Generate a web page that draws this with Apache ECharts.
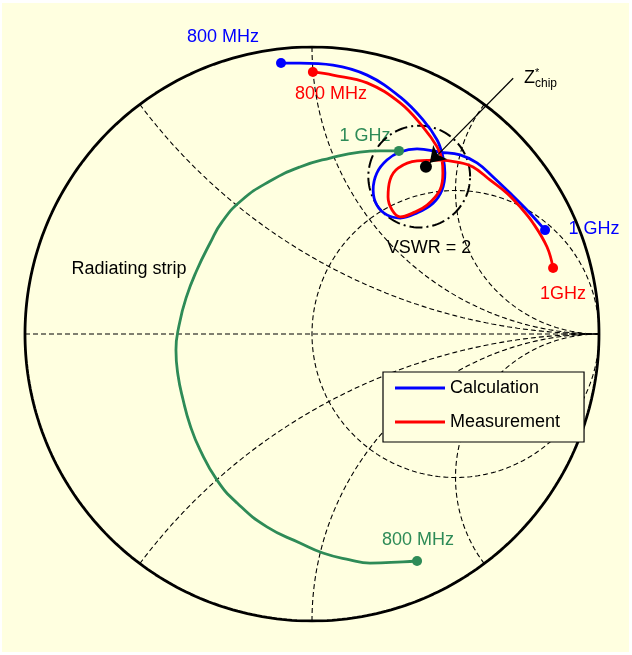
<!DOCTYPE html>
<html>
<head>
<meta charset="utf-8">
<script src="https://cdn.jsdelivr.net/npm/echarts@6/dist/echarts.min.js"></script>
<style>
  html, body { margin: 0; padding: 0; background: #ffffff; }
  #chart { width: 632px; height: 655px; }
</style>
</head>
<body>
<div id="chart"></div>
<script>
// Reflection coefficient traces, [Re Γ, Im Γ], swept 800 MHz -> 1 GHz
const calculation = [
  [-0.108, 0.944], [-0.042, 0.944], [0.073, 0.937], [0.192, 0.902], [0.307, 0.826],
  [0.387, 0.746], [0.436, 0.676], [0.456, 0.617], [0.463, 0.561], [0.453, 0.502],
  [0.422, 0.456], [0.366, 0.422], [0.307, 0.404], [0.261, 0.415], [0.226, 0.449],
  [0.213, 0.502], [0.226, 0.561], [0.261, 0.606], [0.307, 0.634], [0.366, 0.645],
  [0.446, 0.634], [0.516, 0.624], [0.575, 0.596], [0.631, 0.547], [0.690, 0.491],
  [0.749, 0.432], [0.812, 0.362]
];
const measurement = [
  [0.003, 0.913], [0.073, 0.902], [0.192, 0.875], [0.307, 0.805], [0.387, 0.721],
  [0.436, 0.652], [0.453, 0.606], [0.456, 0.561], [0.446, 0.502], [0.401, 0.449],
  [0.352, 0.422], [0.307, 0.408], [0.279, 0.432], [0.265, 0.477], [0.272, 0.537],
  [0.300, 0.578], [0.366, 0.603], [0.446, 0.606], [0.505, 0.599], [0.561, 0.582],
  [0.620, 0.537], [0.679, 0.491], [0.725, 0.443], [0.770, 0.387], [0.819, 0.303],
  [0.840, 0.230]
];
const radiatingStrip = [
  [0.366, -0.791], [0.317, -0.794], [0.202, -0.798], [0.132, -0.787], [0.038, -0.763],
  [-0.042, -0.728], [-0.157, -0.672], [-0.261, -0.589], [-0.331, -0.509], [-0.390, -0.404],
  [-0.425, -0.317], [-0.449, -0.230], [-0.467, -0.143], [-0.474, -0.056], [-0.463, 0.031],
  [-0.439, 0.125], [-0.401, 0.223], [-0.355, 0.317], [-0.314, 0.390], [-0.244, 0.467],
  [-0.146, 0.533], [-0.042, 0.582], [0.063, 0.613], [0.167, 0.634], [0.237, 0.638],
  [0.303, 0.638]
];
// Conjugate chip impedance as a reflection coefficient, and the matching limit
const zChipConj = [0.397, 0.583];
const vswr = 2;
// Smith chart grid values
const gridResistances = [1];
const gridReactances = [0.5, 1, 2, -0.5, -1, -2];
// Legend entries
const legendNames = ['Calculation', 'Measurement'];

const FONT = '"Liberation Sans", Arial, sans-serif';
const BLUE = '#0000ff', RED = '#ff0000', GREEN = '#2e8b57';

// z = r + jx  ->  Γ = (z - 1) / (z + 1)
function gammaOf(r, x) {
  const den = (r + 1) * (r + 1) + x * x;
  return [(r * r - 1 + x * x) / den, (2 * x) / den];
}

function unitCircle() {
  const pts = [];
  for (let i = 0; i <= 360; i++) {
    const t = i * Math.PI / 180;
    pts.push([Math.cos(t), Math.sin(t)]);
  }
  return pts;
}

function resistanceCircle(r) {
  const c = r / (1 + r), rad = 1 / (1 + r), pts = [];
  for (let i = 0; i <= 360; i++) {
    const t = i * Math.PI / 180;
    pts.push([c + rad * Math.cos(t), rad * Math.sin(t)]);
  }
  return pts;
}

function reactanceArc(x) {
  const pts = [];
  const n = 400;
  for (let i = 0; i < n; i++) {
    const th = (i / n) * (Math.PI / 2);
    pts.push(gammaOf(Math.tan(th), x));
  }
  pts.push([1, 0]);
  return pts;
}

function vswrCircle(g, s) {
  const rho = (s - 1) / (s + 1);
  const g2 = g[0] * g[0] + g[1] * g[1];
  const k = 1 - rho * rho * g2;
  const c = [g[0] * (1 - rho * rho) / k, g[1] * (1 - rho * rho) / k];
  const rad = rho * (1 - g2) / k;
  const pts = [];
  for (let i = 0; i <= 360; i++) {
    const t = i * Math.PI / 180;
    pts.push([c[0] + rad * Math.cos(t), c[1] + rad * Math.sin(t)]);
  }
  return pts;
}

const gridStyle = { color: '#000', width: 1.1, type: [5, 3] };
const gridSeries = [];
gridSeries.push({
  type: 'line', data: [[-1, 0], [1, 0]], showSymbol: false, silent: true,
  lineStyle: gridStyle, z: 1
});
gridResistances.forEach(r => gridSeries.push({
  type: 'line', data: resistanceCircle(r), showSymbol: false, silent: true,
  lineStyle: gridStyle, z: 1
}));
gridReactances.forEach(x => gridSeries.push({
  type: 'line', data: reactanceArc(x), showSymbol: false, silent: true,
  lineStyle: gridStyle, z: 1
}));

// arrow pointing at the conjugate chip impedance
const arrowFrom = [0.701, 0.891];
const dir = [arrowFrom[0] - zChipConj[0], arrowFrom[1] - zChipConj[1]];
const dLen = Math.hypot(dir[0], dir[1]);
const arrowTo = [zChipConj[0] + dir[0] / dLen * 0.019, zChipConj[1] + dir[1] / dLen * 0.019];

function ends(arr) { return [arr[0], arr[arr.length - 1]]; }

const chart = echarts.init(document.getElementById('chart'), null, { renderer: 'canvas' });
chart.setOption({
  animation: false,
  backgroundColor: 'transparent',
  grid: { left: 25, top: 47, width: 574, height: 574 },
  xAxis: { type: 'value', min: -1, max: 1, show: false },
  yAxis: { type: 'value', min: -1, max: 1, show: false },
  legend: {
    data: legendNames.map(n => ({ name: n, icon: 'rect' })),
    orient: 'vertical', left: 383, top: 372,
    itemWidth: 50, itemHeight: 3, itemGap: 16,
    padding: [7, 24, 11, 12],
    borderColor: '#000', borderWidth: 1.2, backgroundColor: '#ffffe0',
    selectedMode: false,
    textStyle: { fontSize: 18, fontFamily: FONT, color: '#000' }
  },
  graphic: [
    { type: 'rect', z: -10, silent: true, shape: { x: 2, y: 3, width: 627, height: 649 },
      style: { fill: '#ffffe0' } },
    { type: 'text', x: 223, y: 37, style: { text: '800 MHz', fill: BLUE, font: '18px ' + FONT, align: 'center', verticalAlign: 'middle' } },
    { type: 'text', x: 331, y: 94, style: { text: '800 MHz', fill: RED, font: '18px ' + FONT, align: 'center', verticalAlign: 'middle' } },
    { type: 'text', x: 365, y: 136, style: { text: '1 GHz', fill: GREEN, font: '18px ' + FONT, align: 'center', verticalAlign: 'middle' } },
    { type: 'text', x: 594, y: 229, style: { text: '1 GHz', fill: BLUE, font: '18px ' + FONT, align: 'center', verticalAlign: 'middle' } },
    { type: 'text', x: 563, y: 294, style: { text: '1GHz', fill: RED, font: '18px ' + FONT, align: 'center', verticalAlign: 'middle' } },
    { type: 'text', x: 429, y: 248, style: { text: 'VSWR = 2', fill: '#000', font: '18px ' + FONT, align: 'center', verticalAlign: 'middle' } },
    { type: 'text', x: 129, y: 269, style: { text: 'Radiating strip', fill: '#000', font: '18px ' + FONT, align: 'center', verticalAlign: 'middle' } },
    { type: 'text', x: 418, y: 540, style: { text: '800 MHz', fill: GREEN, font: '18px ' + FONT, align: 'center', verticalAlign: 'middle' } },
    { type: 'text', x: 524, y: 78, style: { text: 'Z', fill: '#000', font: '18px ' + FONT, align: 'left', verticalAlign: 'middle' } },
    { type: 'text', x: 535, y: 73, style: { text: '*', fill: '#000', font: '11px ' + FONT, align: 'left', verticalAlign: 'middle' } },
    { type: 'text', x: 535, y: 84, style: { text: 'chip', fill: '#000', font: '12px ' + FONT, align: 'left', verticalAlign: 'middle' } }
  ],
  series: [
    ...gridSeries,
    {
      type: 'line', data: unitCircle(), showSymbol: false, silent: true,
      lineStyle: { color: '#000', width: 2.8 }, z: 2
    },
    {
      type: 'line', data: vswrCircle(zChipConj, vswr), showSymbol: false, silent: true,
      lineStyle: { color: '#000', width: 2, type: [13, 4, 2, 4] }, z: 2
    },
    {
      name: 'Radiating strip', type: 'line', data: radiatingStrip, showSymbol: false,
      smooth: 0.5, color: GREEN, lineStyle: { color: GREEN, width: 2.8 }, z: 3
    },
    {
      name: 'Calculation', type: 'line', data: calculation, showSymbol: false,
      smooth: 0.4, color: BLUE, lineStyle: { color: BLUE, width: 2.8 }, z: 4
    },
    {
      name: 'Measurement', type: 'line', data: measurement, showSymbol: false,
      smooth: 0.4, color: RED, lineStyle: { color: RED, width: 2.8 }, z: 5
    },
    { type: 'scatter', data: ends(radiatingStrip), symbolSize: 10, itemStyle: { color: GREEN, opacity: 1 }, z: 6 },
    { type: 'scatter', data: ends(calculation), symbolSize: 10, itemStyle: { color: BLUE, opacity: 1 }, z: 6 },
    { type: 'scatter', data: ends(measurement), symbolSize: 10, itemStyle: { color: RED, opacity: 1 }, z: 6 },
    { type: 'scatter', data: [zChipConj], symbolSize: 12, itemStyle: { color: '#000', opacity: 1 }, z: 7 },
    {
      type: 'lines', coordinateSystem: 'cartesian2d', z: 7,
      symbol: ['none', 'arrow'], symbolSize: [9, 15],
      lineStyle: { color: '#000', width: 1.2, opacity: 1 },
      data: [{ coords: [arrowFrom, arrowTo] }]
    }
  ]
});
</script>
</body>
</html>
